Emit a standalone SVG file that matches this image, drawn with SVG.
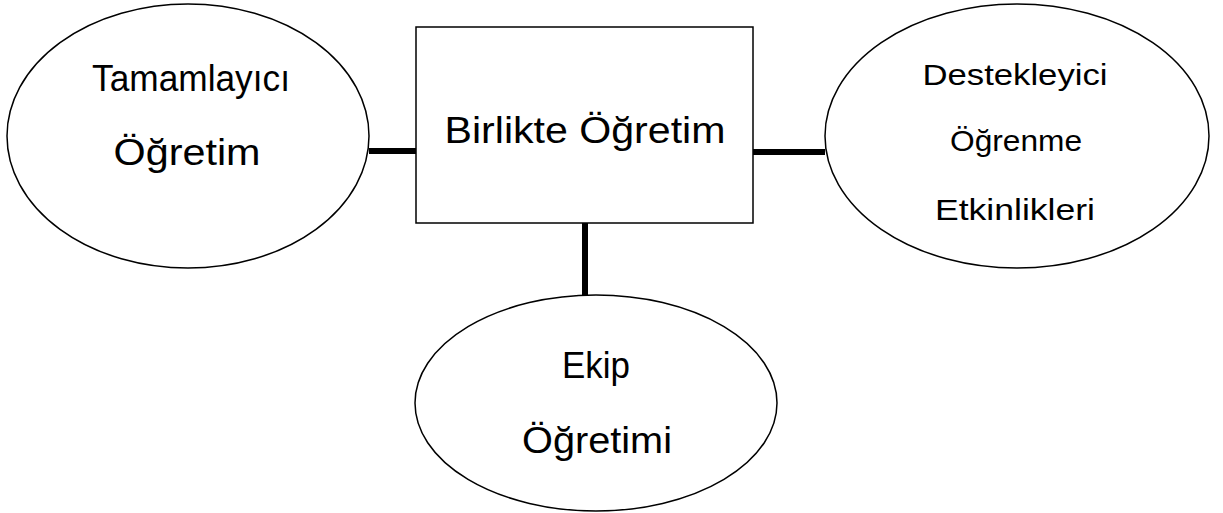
<svg xmlns="http://www.w3.org/2000/svg" width="1223" height="513" viewBox="0 0 1223 513">
<style>
.shape{fill:#fff;stroke:#000;stroke-width:1.5}
.conn{stroke:#000;stroke-width:6;fill:none}
text{font-family:"Comic Sans MS","Liberation Sans","DejaVu Sans",sans-serif;fill:#000;text-anchor:middle}
.big{font-size:37px}
.small{font-size:30px}
</style>
<rect width="1223" height="513" fill="#fff"/>
<g id="connectors">
<line class="conn" x1="369" y1="151" x2="416" y2="151"/>
<line class="conn" x1="753" y1="152" x2="825" y2="152"/>
<line class="conn" x1="585" y1="223" x2="585" y2="295"/>
</g>
<g id="tamamlayici">
<ellipse class="shape" cx="188" cy="136" rx="181" ry="132"/>
<text class="big" x="191" y="91" textLength="198" lengthAdjust="spacingAndGlyphs">Tamamlayıcı</text>
<text class="big" x="187" y="165" textLength="147" lengthAdjust="spacingAndGlyphs">Öğretim</text>
</g>
<g id="birlikte">
<rect class="shape" x="416" y="27" width="337" height="196"/>
<text class="big" x="585" y="143" textLength="281" lengthAdjust="spacingAndGlyphs">Birlikte Öğretim</text>
</g>
<g id="destekleyici">
<ellipse class="shape" cx="1017" cy="136" rx="192" ry="132"/>
<text class="small" x="1015" y="85" textLength="185" lengthAdjust="spacingAndGlyphs">Destekleyici</text>
<text class="small" x="1016" y="151" textLength="132" lengthAdjust="spacingAndGlyphs">Öğrenme</text>
<text class="small" x="1015" y="220" textLength="160" lengthAdjust="spacingAndGlyphs">Etkinlikleri</text>
</g>
<g id="ekip">
<ellipse class="shape" cx="596" cy="403" rx="181" ry="108"/>
<text class="big" x="596" y="378" textLength="68" lengthAdjust="spacingAndGlyphs">Ekip</text>
<text class="big" x="597" y="453" textLength="150" lengthAdjust="spacingAndGlyphs">Öğretimi</text>
</g>
</svg>
